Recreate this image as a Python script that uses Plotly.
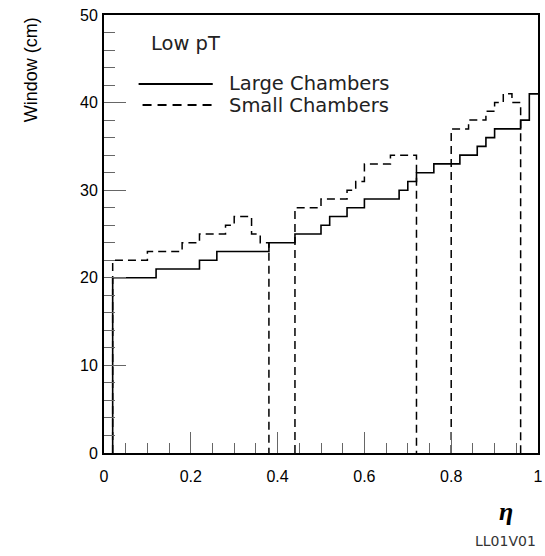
import plotly.graph_objects as go

# ---- data ----
large_edges = [0.02, 0.12, 0.22, 0.26, 0.38, 0.44, 0.50, 0.52, 0.56, 0.60, 0.68,
               0.70, 0.72, 0.76, 0.82, 0.86, 0.88, 0.90, 0.96, 0.98, 1.00]
large_values = [20, 21, 22, 23, 24, 25, 26, 27, 28, 29, 30, 31, 32, 33, 34, 35,
                36, 37, 38, 41]

small_edges_1 = [0.02, 0.10, 0.18, 0.22, 0.28, 0.30, 0.34, 0.36, 0.38]
small_values_1 = [22, 23, 24, 25, 26, 27, 25, 24]
small_edges_2 = [0.44, 0.50, 0.56, 0.58, 0.60, 0.66, 0.72]
small_values_2 = [28, 29, 30, 31, 33, 34]
small_edges_3 = [0.80, 0.84, 0.88, 0.90, 0.92, 0.94, 0.96]
small_values_3 = [37, 38, 39, 40, 41, 40]

x_ticks = [0, 0.2, 0.4, 0.6, 0.8, 1.0]
x_tick_labels = ["0", "0.2", "0.4", "0.6", "0.8", "1"]
y_ticks = [0, 10, 20, 30, 40, 50]
y_tick_labels = ["0", "10", "20", "30", "40", "50"]


def step_path(edges, values, close_end=True):
    xs, ys = [edges[0]], [0]
    for i, v in enumerate(values):
        xs += [edges[i], edges[i + 1]]
        ys += [v, v]
    if close_end:
        xs.append(edges[-1])
        ys.append(0)
    return xs, ys


fig = go.Figure()

lx, ly = step_path(large_edges, large_values, close_end=False)
fig.add_trace(go.Scatter(x=lx, y=ly, mode="lines", name="Large Chambers",
                         line=dict(color="black", width=1.6), showlegend=False))

sx, sy = [], []
for e, v in [(small_edges_1, small_values_1), (small_edges_2, small_values_2),
             (small_edges_3, small_values_3)]:
    a, b = step_path(e, v)
    if sx:
        sx.append(None)
        sy.append(None)
    sx += a
    sy += b
fig.add_trace(go.Scatter(x=sx, y=sy, mode="lines", name="Small Chambers",
                         line=dict(color="black", width=1.5, dash="8px,5px"),
                         showlegend=False))

L, R, T, B = 104, 2, 15, 103
W, H = 545, 556
pw, ph = W - L - R, H - T - B


def px2x(p):
    return (p - L) / pw


def py2y(p):
    return (H - B - p) / ph


# legend built by hand
fig.add_shape(type="line", xref="paper", yref="paper", x0=px2x(139), x1=px2x(214),
              y0=py2y(84), y1=py2y(84), line=dict(color="black", width=2))
fig.add_shape(type="line", xref="paper", yref="paper", x0=px2x(143), x1=px2x(214),
              y0=py2y(105), y1=py2y(105), line=dict(color="black", width=2, dash="9px,6px"))

leg_font = dict(family="DejaVu Sans", size=19.5, color="#222")
fig.add_annotation(text="Low pT", xref="paper", yref="paper", x=px2x(150), y=py2y(44),
                   xanchor="left", yanchor="middle", showarrow=False, font=leg_font)
fig.add_annotation(text="Large Chambers", xref="paper", yref="paper", x=px2x(228), y=py2y(84),
                   xanchor="left", yanchor="middle", showarrow=False, font=leg_font)
fig.add_annotation(text="Small Chambers", xref="paper", yref="paper", x=px2x(228), y=py2y(105),
                   xanchor="left", yanchor="middle", showarrow=False, font=leg_font)

# axis title and labels
fig.add_annotation(text="Window (cm)", xref="paper", yref="paper", x=px2x(30), y=1.0,
                   xanchor="center", yanchor="top", textangle=-90, showarrow=False,
                   font=dict(family="Liberation Sans", size=18, color="black"))
fig.add_annotation(text="<b><i>η</i></b>", xref="paper", yref="paper", x=px2x(511), y=py2y(511),
                   xanchor="center", yanchor="middle", showarrow=False,
                   font=dict(family="Liberation Serif", size=26, color="black"))
fig.add_annotation(text="LL01V01", xref="paper", yref="paper", x=px2x(510), y=py2y(541),
                   xanchor="center", yanchor="middle", showarrow=False,
                   font=dict(family="DejaVu Sans", size=14, color="#333"))

tick_font = dict(family="Liberation Sans", size=16, color="black")
fig.update_xaxes(range=[0, 1], tickvals=x_ticks, ticktext=x_tick_labels,
                 ticks="inside", ticklen=21, tickwidth=1, tickcolor="#666",
                 minor=dict(ticks="inside", ticklen=10, dtick=0.05, tick0=0,
                            tickwidth=1, tickcolor="#666"),
                 showline=True, linewidth=2, linecolor="black", mirror=True,
                 showgrid=False, zeroline=False, tickfont=tick_font,
                 ticklabelstandoff=8, ticklabeloverflow="allow")
fig.update_yaxes(range=[0, 50], tickvals=y_ticks, ticktext=y_tick_labels,
                 ticks="inside", ticklen=22, tickwidth=1, tickcolor="#666",
                 minor=dict(ticks="inside", ticklen=11, dtick=2, tick0=0,
                            tickwidth=1, tickcolor="#666"),
                 showline=True, linewidth=2, linecolor="black", mirror=True,
                 showgrid=False, zeroline=False, tickfont=tick_font,
                 ticklabelstandoff=1, ticklabeloverflow="allow")

fig.update_layout(width=W, height=H, margin=dict(l=L, r=R, t=T, b=B),
                  paper_bgcolor="white", plot_bgcolor="white", showlegend=False)

fig.write_html("out.html", config={"displayModeBar": False},
               post_script="document.body.style.margin='0';document.body.style.overflow='hidden';")
